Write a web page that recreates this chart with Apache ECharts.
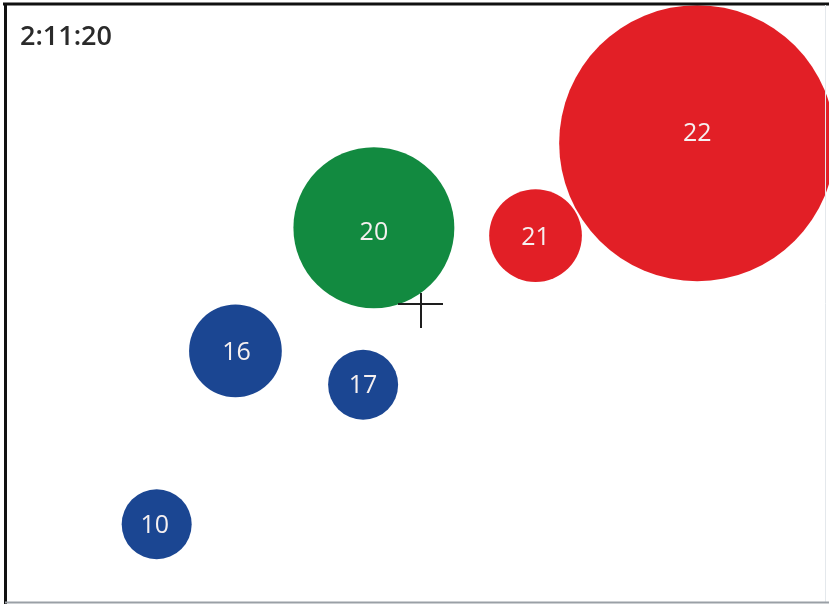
<!DOCTYPE html>
<html>
<head>
<meta charset="utf-8">
<script src="https://cdn.jsdelivr.net/npm/echarts@6/dist/echarts.min.js"></script>
<style>
html,body{margin:0;padding:0;background:#fff;}
#chart{width:829px;height:604px;}
</style>
</head>
<body>
<div id="chart"></div>
<script>
// Bubble data (abstract units, axes 0-100)
const labels = ['10', '16', '17', '20', '21', '22'];
const xValues = [18.9, 28.4, 43.8, 45.1, 64.6, 84.1];
const yValues = [13.2, 41.9, 36.3, 62.3, 61.0, 76.3];
const magnitudes = [49, 86, 49, 259, 86, 762];
const groups = ['blue', 'blue', 'blue', 'green', 'red', 'red'];
const timeLabel = '2:11:20';

const groupColors = { blue: '#1b4692', green: '#128a40', red: '#e21f26' };
const labelOffsets = { '22': [0, -9], '20': [0, 5], '16': [1, 2], '17': [0, 1], '21': [0, 2], '10': [-2, 2] };

const chart = echarts.init(document.getElementById('chart'), null, { renderer: 'canvas' });

const data = labels.map((l, i) => ({
  name: l,
  value: [xValues[i], yValues[i], magnitudes[i]],
  itemStyle: { color: groupColors[groups[i]], opacity: 1 },
  label: labelOffsets[l] ? { offset: labelOffsets[l] } : undefined
}));

chart.setOption({
  animation: false,
  backgroundColor: '#ffffff',
  grid: { left: 0, right: 0, top: 0, bottom: 0 },
  xAxis: { type: 'value', min: 0, max: 100, show: false },
  yAxis: { type: 'value', min: 0, max: 100, show: false },
  series: [{
    type: 'scatter',
    clip: false,
    data: data,
    symbolSize: v => 10 * Math.sqrt(v[2]),
    itemStyle: { opacity: 1 },
    label: {
      show: true,
      position: 'inside',
      formatter: p => p.name,
      color: '#f6f0f0',
      fontFamily: 'Open Sans',
      fontSize: 25,
      fontWeight: 'normal'
    },
    emphasis: { disabled: true }
  }],
  graphic: [
    { type: 'text', left: 20, top: 24, z: 10,
      style: { text: timeLabel, fontFamily: 'Open Sans', fontSize: 27, fontWeight: 600, fill: '#2a2a2a' } },
    // crosshair cursor
    { type: 'line', z: 20, shape: { x1: 398, y1: 304, x2: 443, y2: 304 }, style: { stroke: '#1e1e1e', lineWidth: 2 } },
    { type: 'line', z: 20, shape: { x1: 421, y1: 293, x2: 421, y2: 328 }, style: { stroke: '#1e1e1e', lineWidth: 2 } },
    // frame
    { type: 'line', z: 30, shape: { x1: 3, y1: 4, x2: 829, y2: 4 }, style: { stroke: '#111', lineWidth: 3 } },
    { type: 'line', z: 30, shape: { x1: 5.5, y1: 3, x2: 5.5, y2: 604 }, style: { stroke: '#111', lineWidth: 3 } },
    { type: 'line', z: 30, shape: { x1: 825.5, y1: 5, x2: 825.5, y2: 602 }, style: { stroke: '#e4e8ec', lineWidth: 1 } },
    { type: 'line', z: 30, shape: { x1: 5, y1: 602.5, x2: 829, y2: 602.5 }, style: { stroke: '#9aa0a6', lineWidth: 2 } }
  ]
});
</script>
</body>
</html>
